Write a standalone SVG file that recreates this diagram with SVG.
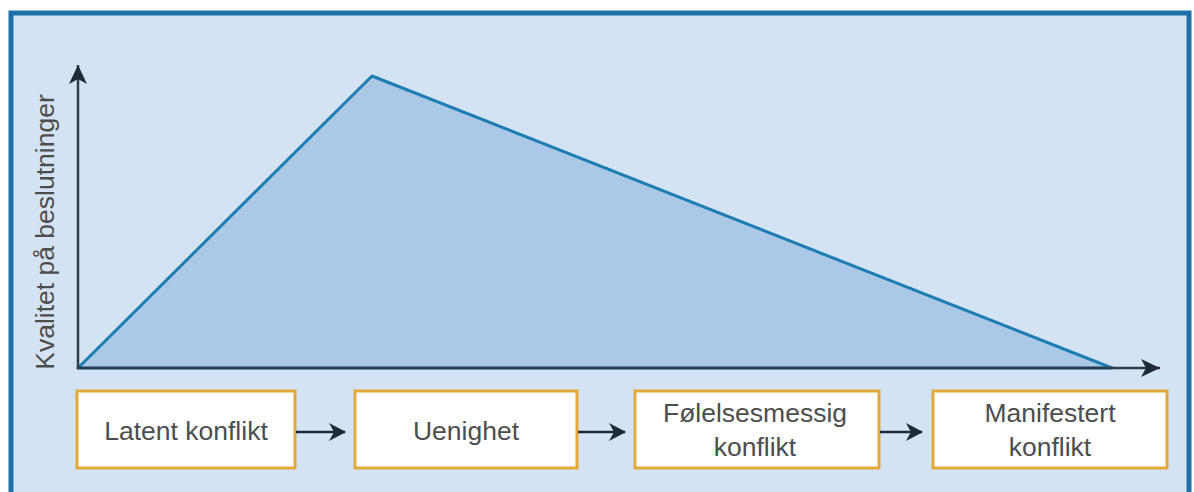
<svg xmlns="http://www.w3.org/2000/svg" width="1194" height="492" viewBox="0 0 1194 492">
<style>
.box rect{fill:#ffffff;stroke:#e2a93a;stroke-width:3}
.box text,.lbl{font-family:"Liberation Sans",Arial,sans-serif;font-size:26.5px;fill:#4d4d4d;text-anchor:middle}
.ax{stroke:#2f3a4a;stroke-width:2.5;fill:none}
.conn{stroke:#1e2a3a;stroke-width:2.5;fill:none}
</style>
<defs>
<marker id="ah" markerWidth="18" markerHeight="18" refX="16" refY="9" orient="auto" markerUnits="userSpaceOnUse"><path d="M0,0 L17,9 L0,18 L5,9 Z" fill="#1e2a3a"/></marker>
<marker id="axh" markerWidth="20" markerHeight="20" refX="19" refY="10" orient="auto" markerUnits="userSpaceOnUse"><path d="M0,1 L19,10 L0,19 L5,10 Z" fill="#1e2a3a"/></marker>
</defs>
<rect x="0" y="0" width="1194" height="492" fill="#ffffff"/>
<rect x="11" y="13" width="1178" height="484" fill="#d4e3f3" stroke="#1f6fa8" stroke-width="5"/>
<g id="chart">
<polygon points="78,368 372,76 1112,368" fill="#abc9e7" stroke="#1e7db3" stroke-width="3" stroke-linejoin="round"/>
<line class="ax" x1="78" y1="369" x2="78" y2="65" marker-end="url(#axh)"/>
<line class="ax" x1="77" y1="368" x2="1160" y2="368" marker-end="url(#axh)"/>
<text class="lbl" transform="translate(54,232) rotate(-90)">Kvalitet på beslutninger</text>
</g>
<g id="n1" class="box"><rect x="77" y="391" width="218" height="77"/><text x="186" y="440">Latent konflikt</text></g>
<g id="n2" class="box"><rect x="355" y="391" width="222" height="77"/><text x="466" y="440">Uenighet</text></g>
<g id="n3" class="box"><rect x="635" y="391" width="244" height="77"/><text x="755" y="422">Følelsesmessig</text><text x="755" y="456">konflikt</text></g>
<g id="n4" class="box"><rect x="933" y="391" width="234" height="77"/><text x="1050" y="422">Manifestert</text><text x="1050" y="456">konflikt</text></g>
<g id="connectors">
<line class="conn" x1="296" y1="432" x2="345" y2="432" marker-end="url(#ah)"/>
<line class="conn" x1="578" y1="432" x2="625" y2="432" marker-end="url(#ah)"/>
<line class="conn" x1="880" y1="432" x2="922" y2="432" marker-end="url(#ah)"/>
</g>
</svg>
